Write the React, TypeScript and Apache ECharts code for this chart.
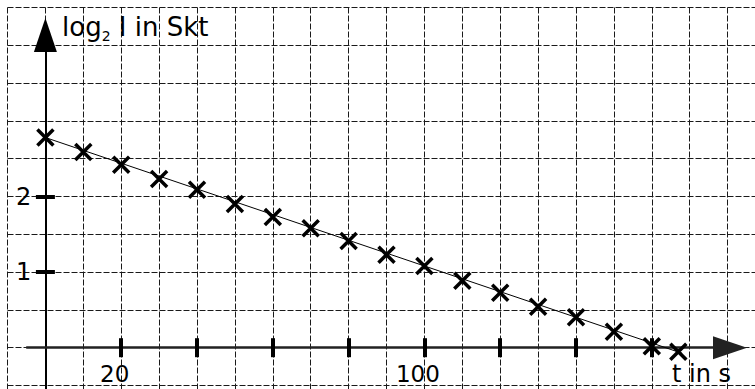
import React, { useEffect, useRef } from "react";
import * as echarts from "echarts";

// ---- data ----
const times = [0, 10, 20, 30, 40, 50, 60, 70, 80, 90, 100, 110, 120, 130, 140, 150, 160, 167];
const log2I = [2.78, 2.59, 2.42, 2.23, 2.09, 1.9, 1.73, 1.58, 1.41, 1.23, 1.08, 0.885, 0.727, 0.542, 0.402, 0.211, 0.02, -0.053];
const fitTimes = [0, 168];
const fitLog2I = [2.78, -0.074];
const xTickValues = [20, 40, 60, 80, 100, 120, 140, 160];
const xLabelValues = [20, 100];
const yTickValues = [1, 2];
const yLabelValues = [1, 2];
const yAxisTitle = "log";
const yAxisTitleSub = "2";
const yAxisTitleRest = " I in Skt";
const xAxisTitle = "t in s";

// ---- layout constants ----
const W = 755;
const H = 389;
const originX = 45.4;
const originY = 347.7;
const pxPerSec = 3.79;
const pxPerUnit = 75.6;
const FONT = "DejaVu Sans";

const tAt = (px: number) => (px - originX) / pxPerSec;
const vAt = (py: number) => (originY - py) / pxPerUnit;

export default function App() {
  const ref = useRef<HTMLDivElement>(null);
  useEffect(() => {
    if (!ref.current) return;
    const chart = echarts.init(ref.current, undefined, { renderer: "svg" });
    const dash = { color: "#1a1a1a", width: 1, type: [6, 2] as number[] };
    const hiddenAxis = (gridIndex: number) => ({ gridIndex, show: false, type: "value" as const });

    const xLineLeft = 27;
    const xLineRight = 730;
    const yLineTop = 35;

    chart.setOption({
      animation: false,
      backgroundColor: "#fff",
      title: [
        {
          text: `{a|${yAxisTitle}}{s|${yAxisTitleSub}}{a|${yAxisTitleRest}}`,
          left: 62,
          top: 11,
          padding: 0,
          textStyle: {
            fontWeight: "normal",
            rich: {
              a: { fontFamily: FONT, fontSize: 26, fontWeight: "normal", color: "#000", lineHeight: 32 },
              s: { fontFamily: FONT, fontSize: 14, fontWeight: "normal", color: "#000", lineHeight: 14, verticalAlign: "bottom" },
            },
          },
        },
        {
          text: xAxisTitle,
          left: 672,
          top: 362,
          padding: 0,
          textStyle: { fontFamily: FONT, fontSize: 24, color: "#000", fontWeight: "normal" },
        },
      ],
      grid: [
        { left: 7.5, top: 7.5, width: 200 * pxPerSec, height: 5.5 * pxPerUnit, outerBoundsMode: "none" },
        { left: xLineLeft, width: xLineRight - xLineLeft, top: 0, height: originY, outerBoundsMode: "none" },
        { left: xLineLeft, width: xLineRight - xLineLeft, top: 0, height: originY + 9.5, outerBoundsMode: "none" },
        { left: originX, width: 10, top: yLineTop, height: H - yLineTop, outerBoundsMode: "none" },
        { left: originX - 9.5, width: 10, top: yLineTop, height: H - yLineTop, outerBoundsMode: "none" },
      ],
      xAxis: [
        {
          gridIndex: 0,
          type: "value",
          min: -10,
          max: 190,
          interval: 10,
          axisLine: { show: false },
          axisTick: { show: false },
          axisLabel: { show: false },
          splitLine: { show: true, lineStyle: dash },
        },
        {
          gridIndex: 1,
          type: "value",
          position: "bottom",
          min: tAt(xLineLeft),
          max: tAt(xLineRight),
          axisLine: {
            show: true,
            lineStyle: { color: "#222", width: 2.5 },
            symbol: ["none", "triangle"],
            symbolSize: [23, 34],
          },
          axisTick: { show: false },
          splitLine: { show: false },
          axisLabel: {
            show: true,
            customValues: xLabelValues,
            formatter: (v: number) => String(v),
            fontFamily: FONT,
            fontSize: 23,
            color: "#000",
            margin: 15,
            padding: [0, 13, 0, 0],
          },
        },
        {
          gridIndex: 2,
          type: "value",
          position: "bottom",
          min: tAt(xLineLeft),
          max: tAt(xLineRight),
          axisLine: { show: false },
          axisTick: {
            show: true,
            customValues: xTickValues,
            inside: true,
            length: 19,
            lineStyle: { color: "#000", width: 4 },
          },
          axisLabel: { show: false },
          splitLine: { show: false },
        },
        hiddenAxis(3),
        hiddenAxis(4),
      ],
      yAxis: [
        {
          gridIndex: 0,
          type: "value",
          min: -1,
          max: 4.5,
          interval: 0.5,
          axisLine: { show: false },
          axisTick: { show: false },
          axisLabel: { show: false },
          splitLine: { show: true, lineStyle: dash },
        },
        hiddenAxis(1),
        hiddenAxis(2),
        {
          gridIndex: 3,
          type: "value",
          position: "left",
          min: vAt(H),
          max: vAt(yLineTop),
          axisLine: {
            show: true,
            lineStyle: { color: "#000", width: 2 },
            symbol: ["none", "triangle"],
            symbolSize: [23, 34],
          },
          axisTick: { show: false },
          splitLine: { show: false },
          axisLabel: {
            show: true,
            customValues: yLabelValues,
            formatter: (v: number) => String(v),
            fontFamily: FONT,
            fontSize: 24,
            color: "#000",
            margin: 14,
          },
        },
        {
          gridIndex: 4,
          type: "value",
          position: "left",
          min: vAt(H),
          max: vAt(yLineTop),
          axisLine: { show: false },
          axisTick: {
            show: true,
            customValues: yTickValues,
            inside: true,
            length: 19,
            lineStyle: { color: "#000", width: 4 },
          },
          axisLabel: { show: false },
          splitLine: { show: false },
        },
      ],
      series: [
        {
          type: "line",
          xAxisIndex: 0,
          yAxisIndex: 0,
          data: fitTimes.map((t, i) => [t, fitLog2I[i]]),
          symbol: "none",
          lineStyle: { color: "#000", width: 1 },
          z: 3,
        },
        {
          type: "scatter",
          xAxisIndex: 0,
          yAxisIndex: 0,
          data: times.map((t, i) => [t, log2I[i]]),
          symbol: "path://M0,0L10,10M0,10L10,0",
          symbolSize: 16,
          itemStyle: { color: "none", borderColor: "#000", borderWidth: 3.5, opacity: 1 },
          z: 5,
        },
      ],
    });
    return () => chart.dispose();
  }, []);
  return (
    <div
      ref={ref}
      style={{ position: "fixed", left: 0, top: 0, width: W, height: H, background: "#fff" }}
    />
  );
}
